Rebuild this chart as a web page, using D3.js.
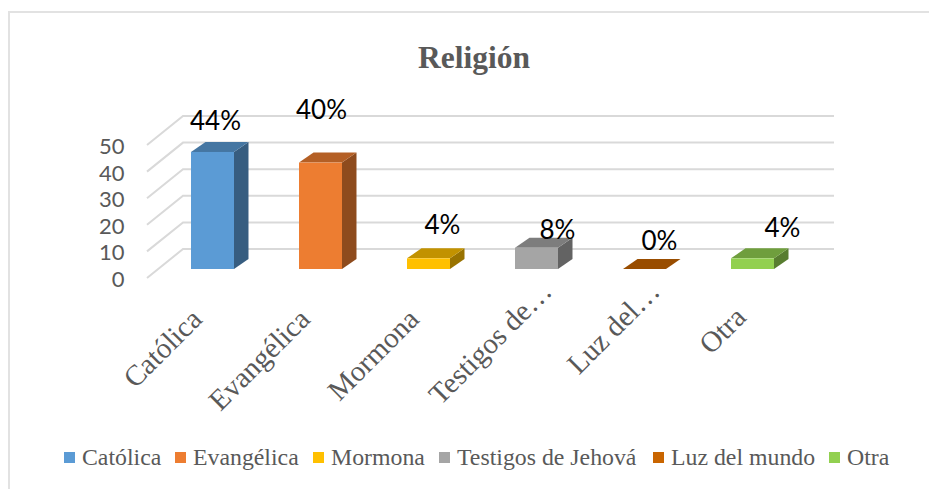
<!DOCTYPE html>
<html><head><meta charset="utf-8">
<script src="https://cdn.jsdelivr.net/npm/d3@7/dist/d3.min.js"></script>
<style>html,body{margin:0;padding:0;background:#fff}svg{display:block}</style>
</head><body><div id="c"></div>
<script>
const categories=["Católica","Evangélica","Mormona","Testigos de Jehová","Luz del mundo","Otra"];
const axisLabels=["Católica","Evangélica","Mormona","Testigos de…","Luz del…","Otra"];
const values=[44,40,4,8,0,4];
const dataLabels=["44%","40%","4%","8%","0%","4%"];
const colors=["#5B9BD5","#ED7D31","#FFC000","#A5A5A5","#C96500","#92D050"];
const yTicks=[0,10,20,30,40,50];
// manual placement of the data labels relative to each bar's top (as in the source chart)
const labelOffsets=[[3,-22],[1,-44],[14,-24],[21,-9],[15,-19],[30,-21]];
// truncated labels sit further up and right in the source chart
const axisLabelOffsets=[[1,-2],[1,-2],[2,-2],[27,-30],[27,-30],[5,-4]];
const legendX=[64,175,313,439,653,829];

const W=929,H=489;
const svg=d3.select("#c").append("svg").attr("width",W).attr("height",H);
const serif="'Liberation Serif','Times New Roman',serif", sans="Lato,'Open Sans',sans-serif", grey="#595959";

svg.append("path").attr("d",`M${W},12H9V${H}`).attr("fill","none").attr("stroke","#e2e2e2").attr("stroke-width",2);

svg.append("text").attr("x",474).attr("y",68).attr("text-anchor","middle")
  .attr("font-family",serif).attr("font-weight","bold").attr("font-size",31.5).attr("fill",grey).text("Religión");

const y=d3.scaleLinear().domain([0,50]).range([269,136]);
const x=d3.scaleBand().domain(categories).range([158.5,806.5]).paddingInner(0.602).paddingOuter(0.301);
const depth={x:14.5,y:10}, wall={x:36,frontDy:9,backDy:-20,left:147,right:834};

svg.append("g").selectAll("path").data(yTicks).join("path")
  .attr("d",d=>`M${wall.left},${y(d)+wall.frontDy}L${wall.left+wall.x},${y(d)+wall.backDy}H${wall.right}`)
  .attr("fill","none").attr("stroke","#d9d9d9").attr("stroke-width",2);

const yAxis=svg.append("g").attr("transform",`translate(124.5,${wall.frontDy+1.5})`)
  .call(d3.axisLeft(y).tickValues(yTicks).tickSize(0).tickPadding(0));
yAxis.select(".domain").remove();
yAxis.selectAll("text").attr("font-family",sans).attr("font-size",22).attr("fill",grey);

const shade=(c,k)=>{const r=d3.rgb(c);return d3.rgb(r.r*k,r.g*k,r.b*k).formatHex();};
const rows=categories.map((c,i)=>({c,v:values[i],col:colors[i],lab:dataLabels[i],off:labelOffsets[i],ax:axisLabels[i],axOff:axisLabelOffsets[i]}));
const bars=svg.append("g").selectAll("g").data(rows).join("g");
const bw=x.bandwidth();
bars.append("path").attr("fill",d=>shade(d.col,.6))
  .attr("d",d=>`M${x(d.c)+bw},${y(d.v)}l${depth.x},${-depth.y}V${y(0)-depth.y}L${x(d.c)+bw},${y(0)}Z`);
bars.append("path").attr("fill",d=>shade(d.col,.76))
  .attr("d",d=>`M${x(d.c)},${y(d.v)}l${depth.x},${-depth.y}h${bw}l${-depth.x},${depth.y}Z`);
bars.append("rect").attr("fill",d=>d.col).attr("x",d=>x(d.c)).attr("width",bw)
  .attr("y",d=>y(d.v)).attr("height",d=>y(0)-y(d.v));
bars.append("text").attr("x",d=>x(d.c)+bw/2+d.off[0]).attr("y",d=>y(d.v)+d.off[1])
  .attr("text-anchor","middle").attr("font-family",sans).attr("font-size",26).attr("fill","#000").text(d=>d.lab);

svg.append("g").selectAll("text").data(rows).join("text")
  .attr("transform",d=>`translate(${x(d.c)+bw/2-10+d.axOff[0]},${323+d.axOff[1]}) rotate(-45)`)
  .attr("text-anchor","end").attr("font-family",serif).attr("font-size",29).attr("fill",grey).text(d=>d.ax);

const leg=svg.append("g").selectAll("g").data(rows).join("g").attr("transform",(d,i)=>`translate(${legendX[i]},0)`);
leg.append("rect").attr("y",452).attr("width",11).attr("height",11).attr("fill",d=>d.col);
leg.append("text").attr("x",18).attr("y",465).attr("font-family",serif).attr("font-size",23.8).attr("fill",grey).text(d=>d.c);
</script></body></html>
